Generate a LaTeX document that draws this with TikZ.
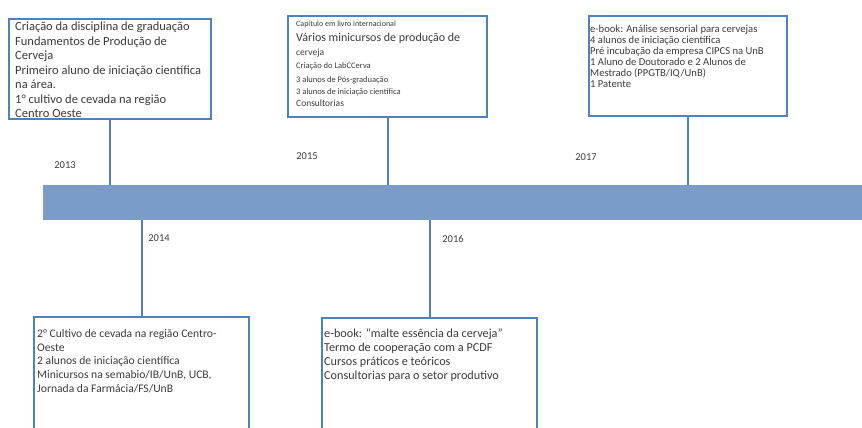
\documentclass[tikz,border=0pt]{standalone}
\usepackage{fontspec}
\setmainfont{Carlito}
\usetikzlibrary{calc}
\definecolor{linec}{RGB}{79,129,189}
\definecolor{barc}{RGB}{122,156,198}
\definecolor{txtc}{RGB}{60,60,60}
\tikzset{
  box/.style={draw=linec, line width=2pt, fill=white, inner sep=0pt, anchor=north west},
  txt/.style={anchor=north west, inner sep=0pt, align=left, text=txtc},
  lntxt/.style={anchor=base west, inner sep=0pt, text=txtc},
  yearlbl/.style={inner sep=0pt, text=txtc, font=\fontsize{10.5}{12}\selectfont},
  conn/.style={draw=linec, line width=2pt},
  barbox/.style={fill=barc, draw=none, inner sep=0pt, anchor=north west}
}
\begin{document}
\begin{tikzpicture}[x=1pt,y=-1pt]
\useasboundingbox (0,0) rectangle (862,428);
% bar
\node[barbox, minimum width=819pt, minimum height=35pt] (bar) at (43,185) {};
% boxes
\node[box, minimum width=202pt, minimum height=100pt] (b1) at (8,18) {};
\node[box, minimum width=199pt, minimum height=101pt] (b2) at (287,15) {};
\node[box, minimum width=198pt, minimum height=100pt] (b3) at (588,15) {};
\node[box, minimum width=215pt, minimum height=112pt] (b4) at (33,316) {};
\node[box, minimum width=215pt, minimum height=111pt] (b5) at (321,317) {};
% connectors
\draw[conn] (b1.south) -- (b1.south |- bar.north);
\draw[conn] (b2.south) -- (b2.south |- bar.north);
\draw[conn] (b3.south) -- (b3.south |- bar.north);
\draw[conn] (b4.north) -- (b4.north |- bar.south);
\draw[conn] (b5.north) -- (b5.north |- bar.south);
% texts
\node[txt, font=\fontsize{12.5}{14.5}\selectfont] (t1) at (15,22) {Criação da disciplina de graduação\\Fundamentos de Produção de\\Cerveja\\Primeiro aluno de iniciação científica\\na área.\\1° cultivo de cevada na região\\Centro Oeste};
\node[lntxt, font=\fontsize{8}{10}\selectfont] (t2a) at (296,27) {Capítulo em livro internacional};
\node[lntxt, font=\fontsize{12}{14}\selectfont] (t2b) at (296,42) {Vários minicursos de produção de};
\node[lntxt, font=\fontsize{9.5}{11}\selectfont] (t2c) at (296,55.5) {cerveja};
\node[lntxt, font=\fontsize{8.5}{10}\selectfont] (t2d) at (296,68.5) {Criação do LabCCerva};
\node[lntxt, font=\fontsize{8.5}{10}\selectfont] (t2e) at (296,82) {3 alunos de Pós-graduação};
\node[lntxt, font=\fontsize{8.5}{10}\selectfont] (t2f) at (296,94) {3 alunos de iniciação científica};
\node[lntxt, font=\fontsize{9.5}{11}\selectfont] (t2g) at (296,106.5) {Consultorias};
\node[txt, font=\fontsize{10.6}{11.1}\selectfont] (t3) at (590,24.5) {e-book: Análise sensorial para cervejas\\4 alunos de iniciação científica\\Pré incubação da empresa CIPCS na UnB\\1 Aluno de Doutorado e 2 Alunos de\\Mestrado (PPGTB/IQ/UnB)\\1 Patente};
\node[txt, font=\fontsize{11.6}{13.6}\selectfont] (t4) at (37,329.5) {2° Cultivo de cevada na região Centro-\\Oeste\\2 alunos de iniciação científica\\Minicursos na semabio/IB/UnB, UCB,\\Jornada da Farmácia/FS/UnB};
\node[txt, font=\fontsize{12.2}{14}\selectfont] (t5) at (324,328.5) {e-book: ``malte essência da cerveja''\\Termo de cooperação com a PCDF\\Cursos práticos e teóricos\\Consultorias para o setor produtivo};
% years
\node[yearlbl] (y13) at (65,165) {2013};
\node[yearlbl] (y15) at (307,156) {2015};
\node[yearlbl] (y17) at (586,157) {2017};
\node[yearlbl] (y14) at (159,238) {2014};
\node[yearlbl] (y16) at (453,239) {2016};
\end{tikzpicture}
\end{document}
